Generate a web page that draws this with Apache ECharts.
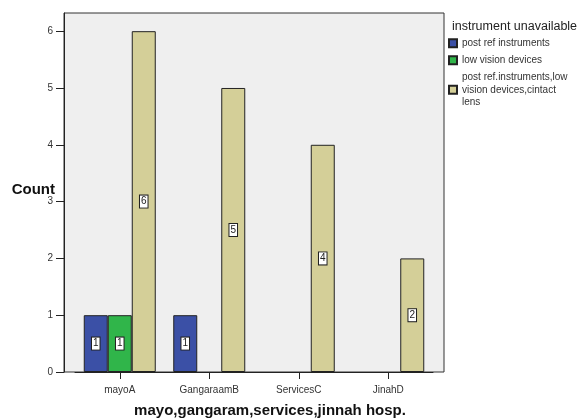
<!DOCTYPE html>
<html><head><meta charset="utf-8">
<script src="https://cdn.jsdelivr.net/npm/echarts@6/dist/echarts.min.js"></script>
<style>html,body{margin:0;padding:0;background:#fff}#c{width:582px;height:419px}</style>
</head><body><div id="c"></div>
<script>
const categories = ['mayoA', 'GangaraamB', 'ServicesC', 'JinahD'];
const seriesNames = ['post ref instruments', 'low vision devices', 'post ref.instruments,low\nvision devices,cintact\nlens'];
const postRef = [1, 1, null, null];
const lowVision = [1, null, null, null];
const combined = [6, 5, 4, 2];
const yTicks = [0, 1, 2, 3, 4, 5, 6];
const colors = ['#3b50a6', '#30b54a', '#d4cf98'];

const chart = echarts.init(document.getElementById('c'));
const font = 'Liberation Sans, Arial, sans-serif';
const label = {
  show: true, position: 'inside', color: '#222', fontSize: 10, fontFamily: font,
  backgroundColor: '#fff', borderColor: '#222', borderWidth: 1, padding: [2, 1, 0, 1]
};
function bar(name, data, i) {
  return {
    name, type: 'bar', data, xAxisIndex: 1, yAxisIndex: 1,
    barWidth: 24, barGap: '0%',
    itemStyle: { color: colors[i], borderColor: '#222', borderWidth: 1 },
    label
  };
}
chart.setOption({
  animation: false,
  textStyle: { fontFamily: font },
  title: [
    { text: 'instrument unavailable', left: 452, top: 20, padding: 0,
      textStyle: { fontSize: 12.5, fontWeight: 'normal', color: '#222', fontFamily: font } },
    { text: 'mayo,gangaram,services,jinnah hosp.', left: 270, top: 403, textAlign: 'center', padding: 0,
      textStyle: { fontSize: 15, fontWeight: 'bold', color: '#111', fontFamily: font } },
    { text: 'Count', left: 55, top: 182, textAlign: 'right', padding: 0,
      textStyle: { fontSize: 15, fontWeight: 'bold', color: '#111', fontFamily: font } }
  ],
  legend: {
    orient: 'vertical', left: 448, top: 37, padding: 0, itemWidth: 8, itemHeight: 8, itemGap: 4.5,
    icon: 'rect',
    textStyle: { fontSize: 10, color: '#333', fontFamily: font, lineHeight: 12.5 },
    data: seriesNames
  },
  grid: [
    { left: 64, right: 138, top: 13, bottom: 47, show: true, backgroundColor: '#efefef',
      borderColor: '#333', borderWidth: 1, outerBoundsMode: 'none', containLabel: false },
    { left: 75, right: 149, top: 13, bottom: 47, outerBoundsMode: 'none', containLabel: false }
  ],
  xAxis: [
    { gridIndex: 0, type: 'value', show: false },
    { gridIndex: 1, type: 'category', data: categories,
      axisLine: { show: true, lineStyle: { color: '#222', width: 1 } },
      axisTick: { show: true, alignWithLabel: true, length: 7, lineStyle: { color: '#222' } },
      axisLabel: { fontSize: 10, color: '#333', margin: 13 } }
  ],
  yAxis: [
    { gridIndex: 0, type: 'value', show: false },
    { gridIndex: 1, type: 'value', min: 0, max: 6.32, interval: 1, offset: 11,
      axisLine: { show: true, lineStyle: { color: '#222' } },
      axisTick: { show: true, length: 8, customValues: yTicks, lineStyle: { color: '#222' } },
      axisLabel: { fontSize: 10, color: '#333', margin: 11, customValues: yTicks },
      splitLine: { show: false } }
  ],
  series: [
    bar(seriesNames[0], postRef, 0),
    bar(seriesNames[1], lowVision, 1),
    bar(seriesNames[2], combined, 2)
  ]
});
</script></body></html>
